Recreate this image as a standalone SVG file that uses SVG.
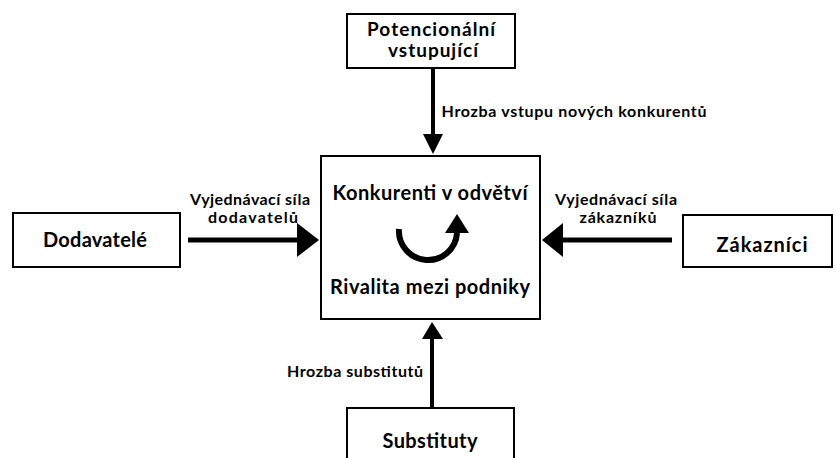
<svg xmlns="http://www.w3.org/2000/svg" width="836" height="458" viewBox="0 0 836 458">
<style>
.box{fill:#fff;stroke:#000;stroke-width:2}
.t{font-family:Lato,"Open Sans","Liberation Sans",sans-serif;font-weight:bold;fill:#000;text-anchor:middle}
.big{font-size:20px}
.top{font-size:19px}
.lbl{font-size:16px}
.v{stroke:#000;stroke-width:4;fill:none}
.h{stroke:#000;stroke-width:5;fill:none}
.head{fill:#000}
</style>
<rect width="836" height="458" fill="#fff"/>
<g id="potencionalni">
<rect class="box" x="347" y="14" width="168" height="54"/>
<text class="t top" x="431" y="36" textLength="128">Potencionální</text>
<text class="t top" x="433" y="57" textLength="90">vstupující</text>
</g>
<g id="konkurenti">
<rect class="box" x="321" y="156" width="219" height="163"/>
<text class="t big" x="430" y="200" textLength="195">Konkurenti v odvětví</text>
<text class="t big" x="430" y="294" textLength="200">Rivalita mezi podniky</text>
<path d="M399,229 A29,29 0 0 0 457,233" stroke="#000" stroke-width="6" fill="none"/>
<polygon class="head" points="445,233 469,233 457,214"/>
</g>
<g id="dodavatele">
<rect class="box" x="13" y="213" width="167" height="54"/>
<text class="t big" x="95" y="247" textLength="104">Dodavatelé</text>
</g>
<g id="zakaznici">
<rect class="box" x="683" y="215" width="149" height="52"/>
<text class="t big" x="762" y="252" textLength="91">Zákazníci</text>
</g>
<g id="substituty">
<rect class="box" x="347" y="408" width="167" height="60"/>
<text class="t big" x="430" y="448" textLength="95">Substituty</text>
</g>
<g id="connectors">
<line class="v" x1="433" y1="68" x2="433" y2="136"/>
<polygon class="head" points="423,134 443,134 433,154"/>
<text class="t lbl" x="574" y="117" textLength="265">Hrozba vstupu nových konkurentů</text>
<line class="h" x1="188" y1="240" x2="300" y2="240"/>
<polygon class="head" points="297,223 297,257 319,240"/>
<text class="t lbl" x="250" y="205" textLength="120">Vyjednávací síla</text>
<text class="t lbl" x="253" y="223" textLength="90">dodavatelů</text>
<line class="h" x1="672" y1="240" x2="560" y2="240"/>
<polygon class="head" points="563,223 563,257 542,240"/>
<text class="t lbl" x="616" y="205" textLength="122">Vyjednávací síla</text>
<text class="t lbl" x="618" y="223" textLength="77">zákazníků</text>
<line class="v" x1="432" y1="408" x2="432" y2="336"/>
<polygon class="head" points="422,339 443,339 432,322"/>
<text class="t lbl" x="355" y="377" textLength="136">Hrozba substitutů</text>
</g>
</svg>
